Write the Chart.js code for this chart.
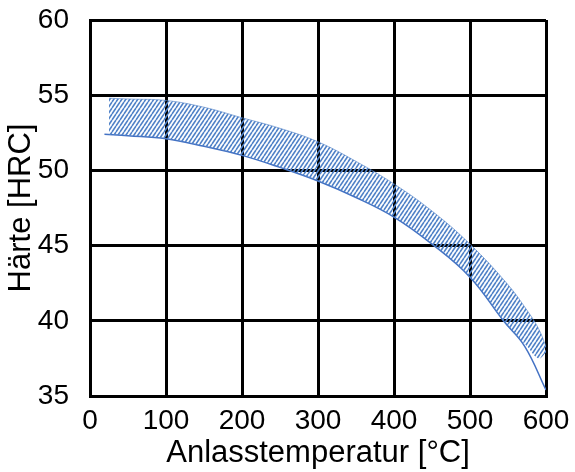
<!DOCTYPE html>
<html>
<head>
<meta charset="utf-8">
<script src="https://cdn.jsdelivr.net/npm/chart.js@4"></script>
<style>
    body { margin: 0; background: #fff; }
    #wrap { width: 575px; height: 472px; }
</style>
</head>
<body>
<div id="wrap"><canvas id="chart"></canvas></div>
<script>
// Hardness band (Härte vs. Anlasstemperatur)
const bandTemp = [25, 50, 100, 150, 200, 250, 300, 350, 400, 450, 500, 550, 575, 590, 600];
const bandUpper = [54.8, 54.75, 54.65, 54.2, 53.5, 52.8, 51.9, 50.6, 49.1, 47.3, 45.1, 42.4, 40.7, 39.5, 38.3];
const bandLower = [52.35, 52.3, 52.1, 51.6, 51.0, 50.2, 49.3, 48.2, 46.9, 45.1, 42.9, 39.6, 38.3, 37.5, 37.9];

// lower limit curve (drawn as thin line, runs past the hatch)
const lowerTemp = [19, 50, 100, 150, 200, 250, 300, 350, 400, 450, 500, 544, 572, 600];
const lowerHardness = [52.4, 52.3, 52.1, 51.6, 51.0, 50.2, 49.3, 48.2, 46.9, 45.1, 42.9, 40.0, 38.3, 35.4];

const xTicks = [0, 100, 200, 300, 400, 500, 600];
const yTicks = [35, 40, 45, 50, 55, 60];

const blue = 'rgb(68, 114, 196)';
const font = 'Liberation Sans, Arial, sans-serif';

function toPoints(xs, ys) {
    return xs.map((x, i) => ({ x: x, y: ys[i] }));
}

// upward diagonal hatch, a bit steeper than 45 deg
function makeHatch() {
    const w = 4, h = 6;
    const c = document.createElement('canvas');
    c.width = w;
    c.height = h;
    const g = c.getContext('2d');
    g.strokeStyle = 'rgb(79, 129, 199)';
    g.lineWidth = 1.6;
    g.beginPath();
    g.moveTo(0, h); g.lineTo(w, 0);
    g.moveTo(-w, h); g.lineTo(0, 0);
    g.moveTo(w, h); g.lineTo(2 * w, 0);
    g.stroke();
    return g.createPattern(c, 'repeat');
}

const ctx = document.getElementById('chart').getContext('2d');

new Chart(ctx, {
    type: 'line',
    data: {
        datasets: [
            {
                data: toPoints(bandTemp, bandLower),
                borderWidth: 0,
                borderColor: 'rgba(0,0,0,0)',
                pointRadius: 0,
                tension: 0.4,
                fill: false
            },
            {
                data: toPoints(bandTemp, bandUpper),
                borderWidth: 1,
                borderColor: 'rgba(79, 129, 199, 0.6)',
                backgroundColor: makeHatch(),
                pointRadius: 0,
                tension: 0.4,
                fill: 0
            },
            {
                data: toPoints(lowerTemp, lowerHardness),
                borderWidth: 1.5,
                borderColor: blue,
                pointRadius: 0,
                tension: 0.4,
                fill: false
            }
        ]
    },
    options: {
        responsive: true,
        maintainAspectRatio: false,
        animation: false,
        layout: { padding: { top: 20, right: 29, left: 0, bottom: 0 } },
        plugins: {
            legend: { display: false },
            tooltip: { enabled: false }
        },
        scales: {
            x: {
                type: 'linear',
                min: 0,
                max: 600,
                afterBuildTicks: (scale) => { scale.ticks = xTicks.map(v => ({ value: v })); },
                afterFit: (scale) => {
                    scale.height = 76;
                    scale.paddingLeft = 0;
                    scale.paddingRight = 0;
                },
                grid: { color: '#000', lineWidth: 3, drawTicks: false },
                border: { display: true, color: '#000', width: 3 },
                ticks: { color: '#000', padding: 8, maxRotation: 0, font: { family: font, size: 28 } },
                title: {
                    display: true,
                    text: 'Anlasstemperatur [°C]',
                    color: '#000',
                    padding: { top: 2, bottom: 0 },
                    font: { family: font, size: 31 }
                }
            },
            y: {
                min: 35,
                max: 60,
                afterBuildTicks: (scale) => { scale.ticks = yTicks.map(v => ({ value: v })); },
                afterFit: (scale) => {
                    scale.width = 90;
                    scale.paddingTop = 0;
                    scale.paddingBottom = 0;
                },
                grid: { color: '#000', lineWidth: 3, drawTicks: false },
                border: { display: true, color: '#000', width: 3 },
                ticks: { color: '#000', padding: 21, font: { family: font, size: 28 } },
                title: {
                    display: true,
                    text: 'Härte [HRC]',
                    color: '#000',
                    padding: { top: 3, bottom: 0 },
                    font: { family: font, size: 31 }
                }
            }
        }
    }
});
</script>
</body>
</html>
